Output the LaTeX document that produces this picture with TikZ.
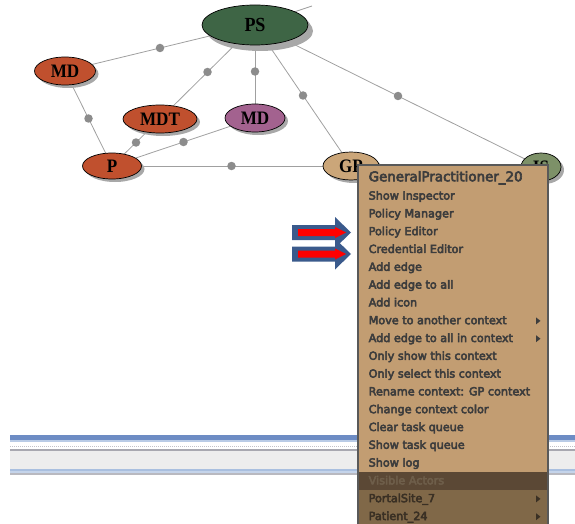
\documentclass[tikz,border=0pt]{standalone}
\usepackage{fontspec}
\setmainfont{Liberation Serif}
\newfontfamily\menufont[BoldFont={DejaVu Sans}, BoldFeatures={FakeBold=4.5}]{DejaVu Sans}
\newfontfamily\actorfont[FakeStretch=0.9]{Liberation Serif}
\usetikzlibrary{shapes.geometric,shadows}

\definecolor{psgreen}{HTML}{3E6545}
\definecolor{actred}{HTML}{C0502E}
\definecolor{actpurple}{HTML}{A3628F}
\definecolor{gptan}{HTML}{CBA679}
\definecolor{isgreen}{HTML}{7D9168}
\definecolor{shadowgray}{HTML}{A8A8A8}
\definecolor{edgegray}{HTML}{A0A0A0}
\definecolor{dotgray}{HTML}{8C8C8C}
\definecolor{menubg}{HTML}{C29D72}
\definecolor{menulow}{HTML}{806848}
\definecolor{menuband}{HTML}{5B4835}
\definecolor{menutext}{HTML}{3D3D3D}
\definecolor{menudim}{HTML}{6E5E4A}
\definecolor{menulowtext}{HTML}{3A3024}
\definecolor{arrowblue}{HTML}{3A5A8C}
\definecolor{arrowred}{HTML}{FF0000}
\definecolor{barblue}{HTML}{6D8CC4}
\definecolor{barlight}{HTML}{B9CBE6}
\definecolor{bargray}{HTML}{A8A8B0}
\definecolor{barfill}{HTML}{EDEDED}
\definecolor{barblue2}{HTML}{A9BFDF}
\definecolor{barblue3}{HTML}{C5D4EA}

\pgfdeclarelayer{background}
\pgfsetlayers{background,main}

\tikzset{
  actor/.style={ellipse, draw=black, line width=0.7pt, inner sep=0pt,
    font=\actorfont\bfseries\fontsize{19}{19}\selectfont,
    drop shadow={shadow xshift=3pt, shadow yshift=-3pt, fill=shadowgray, opacity=1}},
  link/.style={draw=edgegray, line width=0.8pt},
  dot/.style={circle, fill=dotgray, inner sep=0pt, minimum size=8.5pt},
  item/.style={anchor=mid west, inner sep=0pt, text=menutext,
    font=\menufont\bfseries\fontsize{11.2}{12}\selectfont},
}

\begin{document}
\begin{tikzpicture}[x=1pt,y=-1pt]
\useasboundingbox (0,0) rectangle (575,524);

% status bar across the bottom of the window
\fill[barblue] (10,435) rectangle (575,440);
\fill[barlight] (10,440) rectangle (575,442);
\draw[bargray!70, line width=1pt, dash pattern=on 1pt off 1pt] (10,446.5) -- (575,446.5);
\fill[bargray] (10,449) rectangle (575,450.5);
\fill[barfill] (10,450.5) rectangle (575,469);
\fill[barblue2] (10,469) rectangle (575,471);
\fill[barblue3] (10,471) rectangle (575,473);
\fill[bargray!80] (10,473) rectangle (575,475);

% actors
\node[actor, fill=psgreen, minimum width=106pt, minimum height=40pt,
  drop shadow={shadow xshift=5pt, shadow yshift=-6pt, fill=shadowgray, opacity=1},
  font=\actorfont\bfseries\fontsize{20}{20}\selectfont] (PS) at (255,25) {PS};
\node[actor, fill=actred, minimum width=61pt, minimum height=28pt] (MDa) at (65,71) {MD};
\node[actor, fill=actred, minimum width=74pt, minimum height=28pt] (MDT) at (160,119) {MDT};
\node[actor, fill=actpurple, minimum width=60pt, minimum height=28pt] (MDb) at (255,118) {MD};
\node[actor, fill=actred, minimum width=59pt, minimum height=26pt] (P) at (112,166) {P};
\node[actor, fill=gptan, minimum width=56pt, minimum height=28pt] (GP) at (351,166) {GP};
\node[actor, fill=isgreen, minimum width=40pt, minimum height=28pt] (IS) at (541,167) {IS};
\coordinate (PSout) at (312,6);

% connections with their midpoint handles
\begin{pgfonlayer}{background}
\draw[link] (PS.center) -- node[dot]{} (MDa.center);
\draw[link] (PS.center) -- node[dot]{} (MDT.center);
\draw[link] (PS.center) -- node[dot]{} (MDb.center);
\draw[link] (PS.center) -- node[dot]{} (GP.center);
\draw[link] (PS.center) -- node[dot]{} (IS.center);
\draw[link] (PS.center) -- (PSout);
\draw[link] (MDa.center) -- node[dot]{} (P.center);
\draw[link] (MDT.center) -- node[dot]{} (P.center);
\draw[link] (MDb.center) -- node[dot]{} (P.center);
\draw[link] (P.center) -- node[dot]{} (GP.center);
\end{pgfonlayer}

% pointer arrows
\foreach \dy in {0,21.5} {
  \fill[arrowblue] (292,225+\dy) -- (335,225+\dy) -- (335,217+\dy) -- (351,232.5+\dy)
    -- (335,248+\dy) -- (335,240+\dy) -- (292,240+\dy) -- cycle;
  \fill[arrowred] (298,229+\dy) -- (335,229+\dy) -- (335,227+\dy) -- (346,232.5+\dy)
    -- (335,238+\dy) -- (335,236+\dy) -- (298,236+\dy) -- cycle;
}

% context menu
\fill[menubg] (358,165) rectangle (548,472);
\fill[menuband] (358,472) rectangle (548,490);
\fill[menulow] (358,490) rectangle (548,526);
\draw[black!65, line width=1.5pt] (358,526) -- (358,165) -- (548,165) -- (548,526);

\node[item, font=\menufont\bfseries\fontsize{13.4}{14}\selectfont] (m0) at (368.5,179) {GeneralPractitioner\_20};
\foreach \txt [count=\i from 1] in {Show Inspector,
  Policy Manager, Policy Editor, Credential Editor, Add edge, Add edge to all,
  Add icon, Move to another context, Add edge to all in context,
  Only show this context, Only select this context, Rename context: GP context,
  Change context color, Clear task queue, Show task queue, Show log}
  \node[item] (m\i) at (368.5,179.5+17.8*\i) {\txt};
\node[item, text=menudim] (m17) at (368.5,179.5+17.8*17) {Visible Actors};
\node[item, text=menulowtext] (m18) at (368.5,179.5+17.8*18) {PortalSite\_7};
\node[item, text=menulowtext] (m19) at (368.5,179.5+17.8*19) {Patient\_24};

% submenu markers
\foreach \i/\c in {8/menutext, 9/menutext, 18/menulowtext, 19/menulowtext}
  \fill[\c] (536,178.5+17.8*\i-3.5) -- (540.5,178.5+17.8*\i) -- (536,178.5+17.8*\i+3.5) -- cycle;
\end{tikzpicture}
\end{document}
